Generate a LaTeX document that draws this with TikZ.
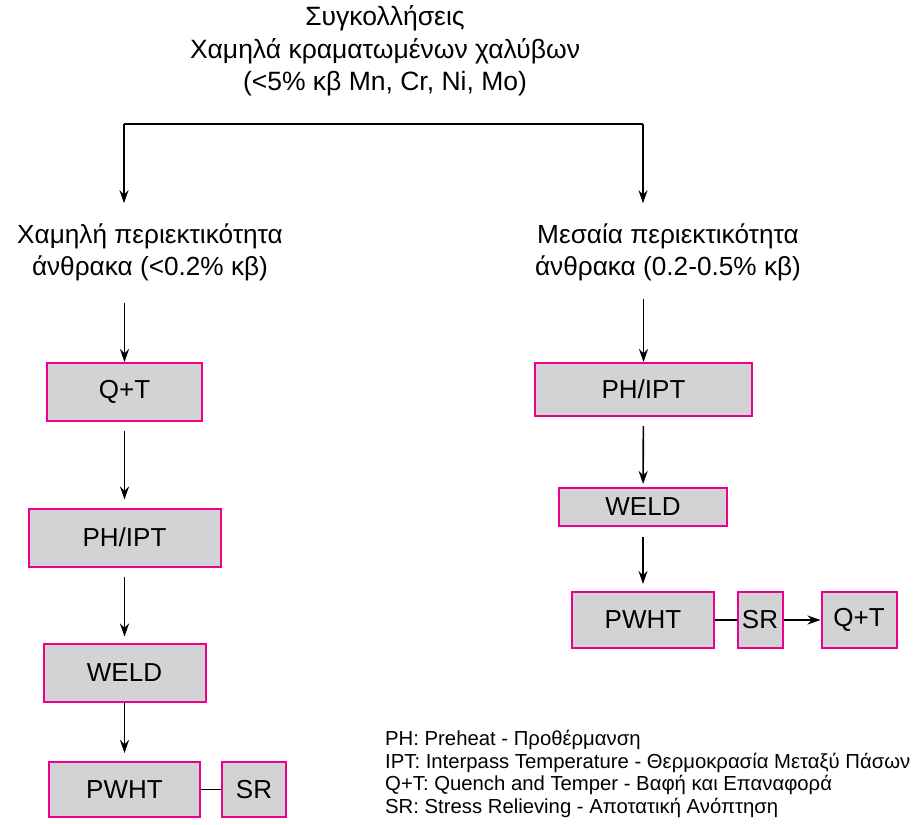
\documentclass[tikz,border=0pt]{standalone}
\usepackage{fontspec}
\setmainfont{Liberation Sans}
\usetikzlibrary{arrows.meta}
\definecolor{boxgray}{RGB}{209,211,212}
\definecolor{boxpink}{RGB}{236,0,140}
\tikzset{
  procbox/.style={draw=boxpink, fill=boxgray, line width=2pt, inner sep=0pt,
    font=\fontsize{26}{30}\selectfont},
  arr/.style={-{Stealth[length=13pt,width=9pt]}, line width=1.6pt},
  heading/.style={align=center, inner sep=0pt, font=\fontsize{26.2}{32}\selectfont},
}
\begin{document}
\begin{tikzpicture}[x=1pt,y=-1pt]
\useasboundingbox (0,0) rectangle (917,824);
% title and the two branches
\node[heading, font=\fontsize{26.5}{32.5}\selectfont] (title) at (385,51)
  {Συγκολλήσεις\\Χαμηλά κραματωμένων χαλύβων\\(<5\% κβ Mn, Cr, Ni, Mo)};
\node[heading] (lowL) at (150,252) {Χαμηλή περιεκτικότητα\\άνθρακα (<0.2\% κβ)};
\node[heading] (medR) at (668,252) {Μεσαία περιεκτικότητα\\άνθρακα (0.2-0.5\% κβ)};
\coordinate (splitL) at (124,124);
\coordinate (splitR) at (643,124);
\draw[line width=1.6pt] (splitL) -- (splitR);
\draw[arr, shorten >=20pt] (splitL) -- (splitL |- lowL.north);
\draw[arr, shorten >=20pt] (splitR) -- (splitR |- medR.north);
% low carbon column
\node[procbox, minimum width=155pt, minimum height=58pt] (qtL) at (124.5,392) {Q+T};
\node[procbox, minimum width=192pt, minimum height=58pt] (phL) at (124.5,537.5) {PH/IPT};
\node[procbox, minimum width=162pt, minimum height=58pt] (weldL) at (124.5,672.5) {WELD};
\node[procbox, minimum width=151pt, minimum height=55pt] (pwhtL) at (124.5,789.5) {PWHT};
\node[procbox, minimum width=64pt, minimum height=55pt] (srL) at (254,789.5) {SR};
\draw[arr, shorten <=22pt] (qtL.north |- lowL.south) -- (qtL.north);
\draw[arr, shorten <=9pt, shorten >=8pt] (qtL) -- (phL);
\draw[arr, shorten <=9pt, shorten >=6pt] (phL) -- (weldL);
\draw[arr, shorten >=8pt] (weldL) -- (pwhtL);
\draw[line width=1.6pt] (pwhtL) -- (srL);
% medium carbon column
\node[procbox, minimum width=217pt, minimum height=53pt] (phR) at (643.5,389.5) {PH/IPT};
\node[procbox, minimum width=168pt, minimum height=38pt] (weldR) at (643,507) {WELD};
\node[procbox, minimum width=142pt, minimum height=56pt] (pwhtR) at (643,620) {PWHT};
\node[procbox, minimum width=45pt, minimum height=56pt] (srR) at (760,620) {SR};
\node[procbox, minimum width=75pt, minimum height=56pt] (qtR) at (859,620) {Q+T};
\draw[arr, shorten <=18pt] (phR.north |- medR.south) -- (phR.north);
\draw[arr, shorten <=9pt, shorten >=3pt] (phR) -- (weldR);
\draw[arr, shorten <=10pt, shorten >=7pt] (weldR) -- (pwhtR);
\draw[line width=1.6pt] (pwhtR) -- (srR);
\draw[arr] (srR) -- (qtR);
% abbreviations
\node[anchor=west, align=left, inner sep=0pt, font=\fontsize{20.3}{22.7}\selectfont] (legend) at (385,774)
  {PH: Preheat - Προθέρμανση\\
   IPT: Interpass Temperature - Θερμοκρασία Μεταξύ Πάσων\\
   Q+T: Quench and Temper - Βαφή και Επαναφορά\\
   SR: Stress Relieving - Αποτατική Ανόπτηση};
\end{tikzpicture}
\end{document}
